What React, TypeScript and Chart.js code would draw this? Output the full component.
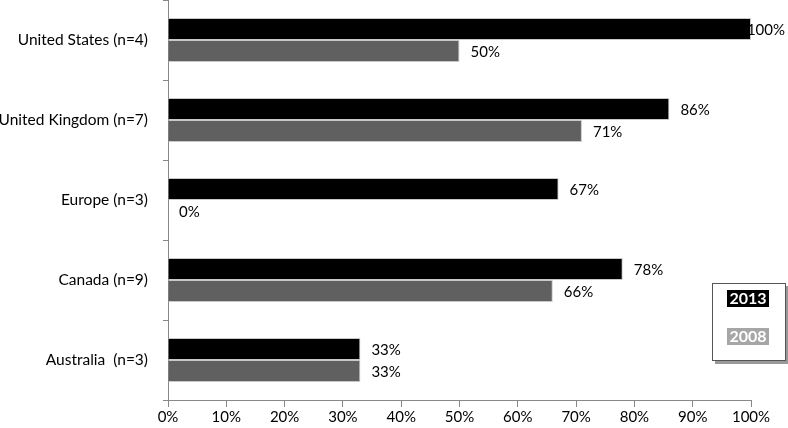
import React, { useEffect, useRef } from "react";
import { Chart, registerables } from "chart.js";
Chart.register(...registerables);

const categories = ["United States (n=4)", "United Kingdom (n=7)", "Europe (n=3)", "Canada (n=9)", "Australia  (n=3)"];
const values2013 = [100, 86, 67, 78, 33];
const values2008 = [50, 71, 0, 66, 33];
const legendLabels = ["2013", "2008"];
const FONT = "Lato, sans-serif";

const labelPlugin = {
  id: "valueLabels",
  afterDatasetsDraw(chart: any) {
    const ctx = chart.ctx;
    ctx.save();
    ctx.font = `15px ${FONT}`;
    ctx.fillStyle = "#000";
    ctx.textBaseline = "middle";
    ctx.textAlign = "left";
    chart.data.datasets.forEach((ds: any, di: number) => {
      const meta = chart.getDatasetMeta(di);
      meta.data.forEach((bar: any, i: number) => {
        const txt = ds.data[i] + "%";
        const w = ctx.measureText(txt).width;
        const x = Math.min(bar.x + 11, chart.width - w - 3);
        ctx.fillText(txt, x, bar.y + 1);
      });
    });
    ctx.restore();
  },
};

const legendPlugin = {
  id: "boxLegend",
  afterDraw(chart: any) {
    const ctx = chart.ctx;
    ctx.save();
    ctx.fillStyle = "#999";
    ctx.fillRect(715, 286, 73, 78);
    ctx.fillStyle = "#fff";
    ctx.fillRect(712, 283, 74, 78);
    ctx.strokeStyle = "#555";
    ctx.lineWidth = 1;
    ctx.strokeRect(712.5, 283.5, 73, 77);
    const colors = ["#000000", "#a6a6a6"];
    const ys = [290, 328];
    ctx.font = `bold 16px ${FONT}`;
    ctx.textAlign = "center";
    ctx.textBaseline = "middle";
    legendLabels.forEach((l, i) => {
      ctx.fillStyle = colors[i];
      ctx.fillRect(727, ys[i], 42, 17);
      ctx.fillStyle = "#fff";
      ctx.fillText(l, 748, ys[i] + 9);
    });
    ctx.restore();
  },
};

export default function App() {
  const ref = useRef<HTMLCanvasElement>(null);
  useEffect(() => {
    const chart = new Chart(ref.current!, {
      type: "bar",
      data: {
        labels: categories,
        datasets: [
          { label: "2013", data: values2013, backgroundColor: "#000000", borderColor: "#c8c8c8", borderWidth: 1, barPercentage: 1, categoryPercentage: 0.55 },
          { label: "2008", data: values2008, backgroundColor: "#606060", borderColor: "#c8c8c8", borderWidth: 1, barPercentage: 1, categoryPercentage: 0.55 },
        ],
      },
      options: {
        indexAxis: "y",
        animation: false,
        responsive: false,
        layout: { padding: { top: 0, right: 37, left: 0, bottom: 0 } },
        plugins: { legend: { display: false }, tooltip: { enabled: false } },
        scales: {
          x: {
            min: 0,
            max: 100,
            ticks: { stepSize: 10, callback: (v: any) => v + "%", color: "#000", font: { family: FONT, size: 15 }, padding: 1, maxRotation: 0 },
            grid: { drawOnChartArea: false, tickLength: 7, color: "#888" },
            border: { color: "#888" },
            afterFit: (s: any) => { s.height = 28; },
          },
          y: {
            ticks: { color: "#000", font: { family: FONT, size: 15.5 }, padding: 15 },
            grid: { drawOnChartArea: false, tickLength: 5, color: "#888", offset: true },
            border: { color: "#888" },
            afterFit: (s: any) => { s.width = 168; s.paddingTop = 0; s.paddingBottom = 0; },
          },
        },
      },
      plugins: [labelPlugin, legendPlugin],
    });
    return () => chart.destroy();
  }, []);
  return (
    <div style={{ position: "fixed", left: 0, top: 0, width: 788, height: 428, background: "#fff" }}>
      <canvas ref={ref} width={788} height={428} />
    </div>
  );
}
